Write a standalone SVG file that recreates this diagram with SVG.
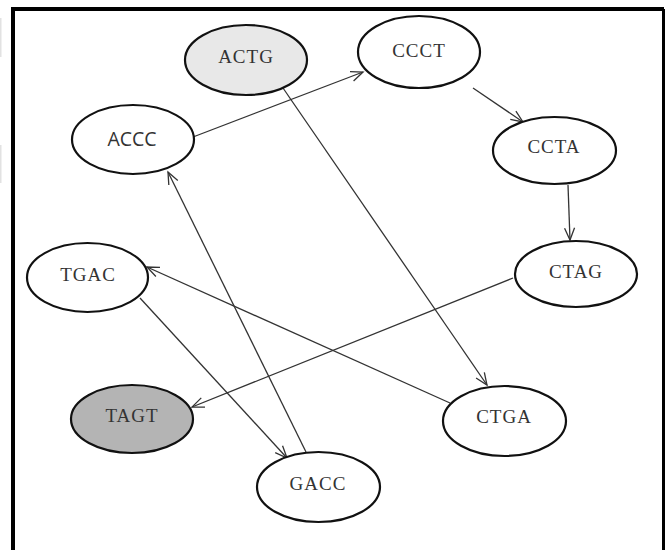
<svg xmlns="http://www.w3.org/2000/svg" width="665" height="550" viewBox="0 0 665 550">
<style>
.n ellipse{stroke:#111;stroke-width:2.2;fill:#fff}
.n text{font-family:"Liberation Serif","Times New Roman",serif;font-size:19px;letter-spacing:1px;fill:#333;text-anchor:middle}
.n text.s{font-family:"Open Sans","Liberation Sans",sans-serif;font-size:19.5px;letter-spacing:0}
.e path{fill:none;stroke:#333;stroke-width:1.3}
</style>
<defs>
<marker id="arr" markerUnits="userSpaceOnUse" markerWidth="14" markerHeight="12" refX="13" refY="6" orient="auto" overflow="visible">
<path d="M1,1 L13,6 L1,11" fill="none" stroke="#333" stroke-width="1.3"/>
</marker>
</defs>
<rect width="665" height="550" fill="#fff"/>
<rect x="0" y="18" width="1.5" height="39" fill="#e2e2e2"/>
<rect x="0" y="145" width="1.5" height="38" fill="#e2e2e2"/>
<g id="frame" fill="none" stroke="#000">
<path d="M13,550 V9 H664" stroke-width="4"/>
<path d="M663.5,9 V550" stroke-width="3"/>
</g>
<g class="e" id="connectors">
<path d="M193,137 L363,72" marker-end="url(#arr)"/>
<path d="M473,88 L523,122" marker-end="url(#arr)"/>
<path d="M568,185 L570,240" marker-end="url(#arr)"/>
<path d="M513,278 L192,407" marker-end="url(#arr)"/>
<path d="M283,88 L487,385" marker-end="url(#arr)"/>
<path d="M450,403 L147,267" marker-end="url(#arr)"/>
<path d="M140,298 L287,458" marker-end="url(#arr)"/>
<path d="M306,452 L168,172" marker-end="url(#arr)"/>
</g>
<g class="n" id="ACTG"><ellipse cx="246" cy="60" rx="61" ry="35" style="fill:#e8e8e8"/><text x="246" y="63">ACTG</text></g>
<g class="n" id="CCCT"><ellipse cx="419" cy="52" rx="61" ry="36"/><text x="419" y="57">CCCT</text></g>
<g class="n" id="ACCC"><ellipse cx="133" cy="139.5" rx="61" ry="34.5"/><text class="s" x="132" y="146">ACCC</text></g>
<g class="n" id="CCTA"><ellipse cx="554.5" cy="150.5" rx="61.5" ry="33.5"/><text x="554" y="153">CCTA</text></g>
<g class="n" id="CTAG"><ellipse cx="576" cy="274" rx="61" ry="33"/><text x="576" y="278">CTAG</text></g>
<g class="n" id="TGAC"><ellipse cx="87.5" cy="277.5" rx="60.5" ry="34.5"/><text x="88" y="281">TGAC</text></g>
<g class="n" id="TAGT"><ellipse cx="132" cy="419" rx="61" ry="34" style="fill:#b4b4b4"/><text x="132" y="422">TAGT</text></g>
<g class="n" id="GACC"><ellipse cx="318.5" cy="487" rx="61.5" ry="35"/><text x="318" y="490">GACC</text></g>
<g class="n" id="CTGA"><ellipse cx="504.5" cy="421" rx="61.5" ry="35"/><text x="504" y="423">CTGA</text></g>
</svg>
